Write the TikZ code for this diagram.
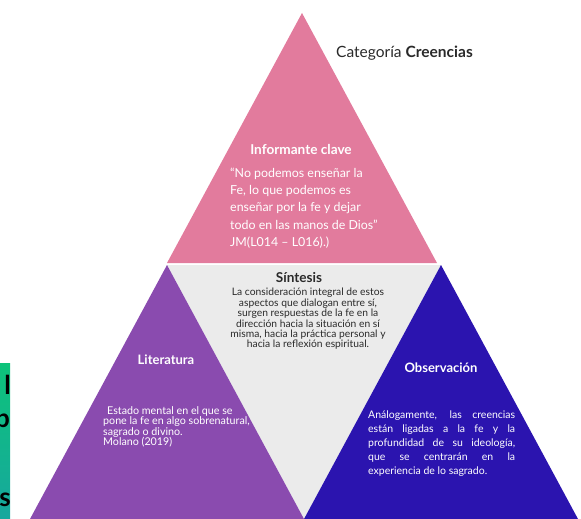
\documentclass[tikz,border=0pt]{standalone}
\usepackage{fontspec}
\setmainfont{Lato}
\definecolor{pinkT}{HTML}{E27B9D}
\definecolor{purpleT}{HTML}{8A4BAF}
\definecolor{blueT}{HTML}{2B14AF}
\definecolor{grayT}{HTML}{EBEBEB}
\definecolor{darkT}{HTML}{2A2A2A}
\definecolor{greenA}{HTML}{0DC37A}
\definecolor{greenB}{HTML}{17A79E}
\begin{document}
\begin{tikzpicture}[x = 1pt, y = -1pt,
                    title/.style = {text = white, font = \bfseries\fontsize{13}{15}\selectfont},
                    small/.style = {text = white, inner sep = 0pt, font = \fontsize{10.3}{10.4}\selectfont}]
\useasboundingbox (0,0) rectangle (581,519);

% triangles
\fill[pinkT] (302,13) -- (167,263) -- (437,263) -- cycle;
\fill[grayT] (167,265) -- (441,265) -- (304,519) -- cycle;
\fill[purpleT] (167,265) -- (30,519) -- (304,519) -- cycle;
\fill[blueT] (441,265) -- (304,519) -- (578,519) -- cycle;

% heading
\node[anchor = west, inner sep = 0pt, text = darkT, font = \fontsize{15.5}{17}\selectfont] (head) at (336,53) {Categoría \textbf{Creencias}};

% informante clave
\node[title, font = \bfseries\fontsize{13.6}{15}\selectfont] (infT) at (301,150) {Informante clave};
\node[anchor = west, inner sep = 0pt, text = white, align = left,
      font = \fontsize{12.4}{17.3}\selectfont] (infB) at (230,208)
      {“No podemos enseñar la \\ Fe, lo que podemos es \\ enseñar por la fe y dejar \\
       todo en las manos de Dios” \\ JM(L014 – L016).)};

% sintesis
\node[text = darkT, font = \bfseries\fontsize{13.6}{15}\selectfont] (sinT) at (299,278) {Síntesis};
\node[small, text = darkT, align = center] (sinB) at (308,319)
      {La consideración integral de estos \\ aspectos que dialogan entre sí, \\
       surgen respuestas de la fe en la \\ dirección hacia la situación en sí \\
       misma, hacia la práctica personal y \\ hacia la reflexión espiritual.};

% literatura
\node[title] (litT) at (166,360) {Literatura};
\node[small, anchor = west, align = left, font = \fontsize{10.7}{10.4}\selectfont] (litB) at (103,427)
      {\hspace{4pt}Estado mental en el que se \\ pone la fe en algo sobrenatural, \\
       sagrado o divino. \\ Molano (2019)};

% observacion
\node[small, anchor = north west, text width = 147pt, align = justify,
      font = \fontsize{10.5}{13.9}\selectfont] (obsB) at (368,411)
      {Análogamente, las creencias\linebreak están ligadas a la fe y la\linebreak
       profundidad de su ideología,\linebreak que se centrarán en la\linebreak
       experiencia de lo sagrado.};
\node[title] (obsT) at (441,368) {Observación};

% cut strip at the left edge
\begin{scope}
\clip (0,363) rectangle (10,519);
\shade[top color = greenA, bottom color = greenB] (0,363) rectangle (10,519);
\node[anchor = east, inner sep = 0pt, font = \bfseries\fontsize{26}{26}\selectfont] (fragA) at (11,385) {l};
\node[anchor = east, inner sep = 0pt, font = \bfseries\fontsize{26}{26}\selectfont] (fragB) at (10,423) {p};
\node[anchor = east, inner sep = 0pt, font = \bfseries\fontsize{26}{26}\selectfont] (fragC) at (11,500) {os};
\end{scope}

\end{tikzpicture}
\end{document}
